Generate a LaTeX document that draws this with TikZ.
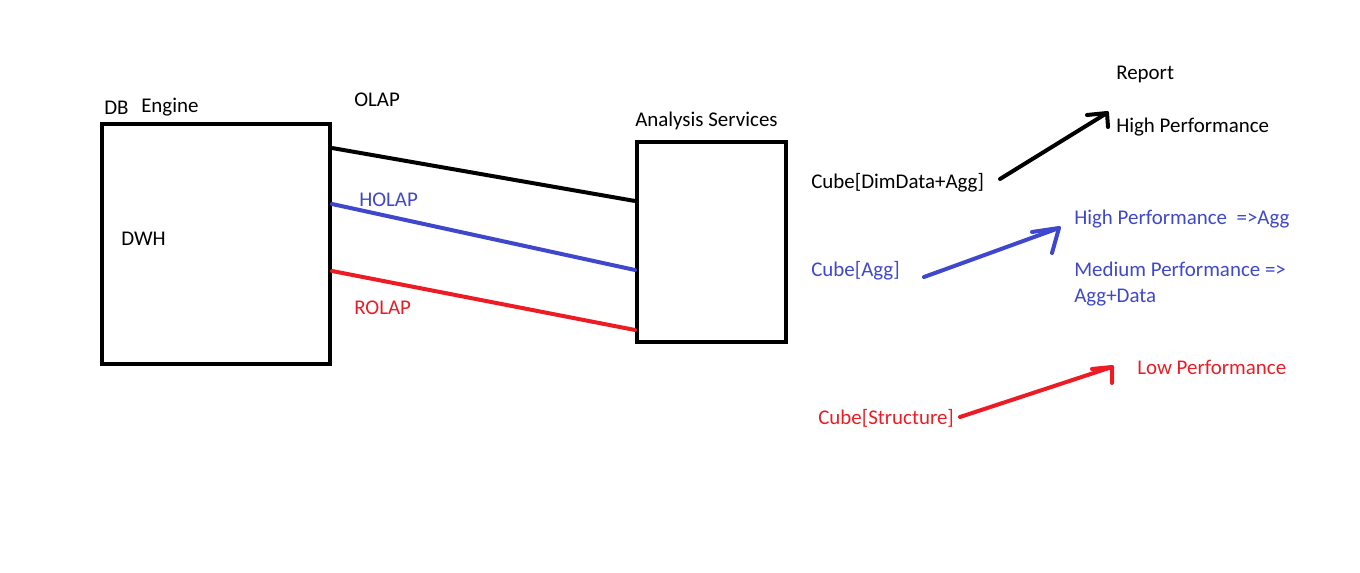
\documentclass[tikz,border=0pt]{standalone}
\usepackage{fontspec}
\setmainfont{Carlito}
\begin{document}
\begin{tikzpicture}[x=0.75pt,y=-0.75pt,
  lbl/.style={anchor=west,inner sep=0pt,yshift=-1.2pt,font=\fontsize{15.7}{19.5}\selectfont},
  boxline/.style={line width=3pt},
  conn/.style={line width=3pt,line cap=round,line join=round}]
\definecolor{pblue}{RGB}{63,72,204}
\definecolor{pred}{RGB}{237,28,36}
\useasboundingbox (0,0) rectangle (1360,573);
% boxes
\node[boxline,draw,minimum width=228*0.75pt,minimum height=240*0.75pt,inner sep=0pt] (db) at (216,244) {};
\node[boxline,draw,minimum width=149*0.75pt,minimum height=200*0.75pt,inner sep=0pt] (as) at (711.5,242) {};
% labels
\node[lbl] (dbl) at (104,106) {DB};
\node[lbl] (eng) at (141,106) {Engine};
\node[lbl] (dwh) at (121,237) {DWH};
\node[lbl] (olap) at (354,98) {OLAP};
\node[lbl,text=pblue] (holap) at (359,198) {HOLAP};
\node[lbl,text=pred] (rolap) at (354,306) {ROLAP};
\node[lbl] (asl) at (635,119) {Analysis Services};
% connectors between boxes
\draw[conn,line cap=butt] (db.north east |- 0,148) -- (as.north west |- 0,201);
\draw[conn,pblue] (db.north east |- 0,204) -- (as.north west |- 0,270);
\draw[conn,pred] (db.north east |- 0,271) -- (as.north west |- 0,330);
% right side
\node[lbl] (rep) at (1116,73) {Report};
\node[lbl] (hp) at (1116,125) {High Performance};
\node[lbl] (c1) at (811,181) {Cube[DimData+Agg]};
\node[lbl,text=pblue] (c2) at (811,269) {Cube[Agg]};
\node[lbl,text=pblue] (hp2) at (1074,217) {High Performance\ \ =>Agg};
\node[lbl,text=pblue,align=left] (mp) at (1074,282) {Medium Performance =>\\Agg+Data};
\node[lbl,text=pred] (c3) at (818,417) {Cube[Structure]};
\node[lbl,text=pred] (lp) at (1137,366) {Low Performance};
% arrows
\coordinate (t1) at (1107,113);
\coordinate (t2) at (1059,228);
\coordinate (t3) at (1112,367);
\draw[conn] (1000,179) -- (t1);
\draw[conn] ([shift={(-20,2)}]t1) -- (t1) -- ([shift={(1,14)}]t1);
\draw[conn,pblue] (924,277) -- (t2);
\draw[conn,pblue] ([shift={(-27,4)}]t2) -- (t2) -- ([shift={(-7,25)}]t2);
\draw[conn,pred] (960,417) -- (t3);
\draw[conn,pred] ([shift={(-20,2)}]t3) -- (t3) -- ([shift={(0,16)}]t3);
\end{tikzpicture}
\end{document}
